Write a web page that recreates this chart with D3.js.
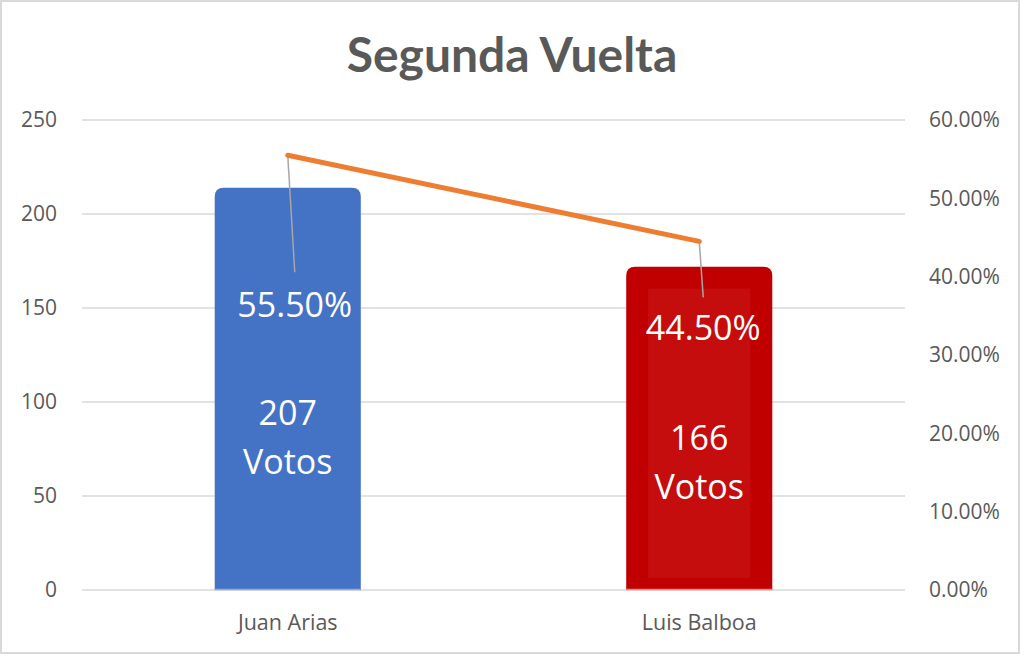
<!DOCTYPE html>
<html>
<head>
<meta charset="utf-8">
<script src="https://cdn.jsdelivr.net/npm/d3@7"></script>
<style>
  html, body { margin: 0; padding: 0; background: #fff; }
  svg { display: block; font-family: "Open Sans", Lato, sans-serif; }
</style>
</head>
<body>
<svg id="chart"></svg>
<script>
// chart data
const candidates = ["Juan Arias", "Luis Balboa"];
const barValues = [214, 172];          // bar heights as drawn (left axis)
const voteLabels = ["207", "166"];
const percentages = [0.555, 0.445];     // line series (right axis)
const leftTicks = [0, 50, 100, 150, 200, 250];
const rightTicks = [0, 0.1, 0.2, 0.3, 0.4, 0.5, 0.6];
const barColors = ["#4472C4", "#C00000"];

const W = 1024, H = 657;
const margin = {top: 120, right: 119, bottom: 67, left: 82};

const svg = d3.select("#chart").attr("width", W).attr("height", H);

// border
svg.append("rect")
    .attr("x", 1).attr("y", 1)
    .attr("width", W - 6).attr("height", H - 5)
    .attr("fill", "#fff")
    .attr("stroke", "#d9d9d9")
    .attr("stroke-width", 2);

const x = d3.scaleBand()
    .domain(candidates)
    .range([margin.left, W - margin.right])
    .paddingInner(0.645)
    .paddingOuter(0.3225);

const yLeft = d3.scaleLinear().domain([0, 250]).range([H - margin.bottom, margin.top]);
const yRight = d3.scaleLinear().domain([0, 0.6]).range([H - margin.bottom, margin.top]);

// title
svg.append("text")
    .attr("x", 512).attr("y", 72)
    .attr("text-anchor", "middle")
    .attr("font-family", "Lato, sans-serif")
    .attr("font-size", 48)
    .attr("font-weight", "bold")
    .attr("fill", "#595959")
    .text("Segunda Vuelta");

// gridlines
svg.append("g")
    .selectAll("line")
    .data(leftTicks)
    .enter()
    .append("line")
    .attr("x1", margin.left).attr("x2", W - margin.right)
    .attr("y1", d => yLeft(d)).attr("y2", d => yLeft(d))
    .attr("stroke", "#d9d9d9")
    .attr("stroke-width", 1.3);

// left axis
const leftAxis = svg.append("g")
    .attr("transform", `translate(${margin.left - 25},0)`)
    .call(d3.axisLeft(yLeft).tickValues(leftTicks).tickSize(0).tickPadding(0));
leftAxis.select(".domain").remove();
leftAxis.selectAll("text")
    .attr("font-family", "'Open Sans', sans-serif")
    .attr("font-size", 21)
    .attr("fill", "#595959");

// right axis
const rightAxis = svg.append("g")
    .attr("transform", `translate(${W - margin.right + 24},0)`)
    .call(d3.axisRight(yRight).tickValues(rightTicks).tickFormat(d3.format(".2%")).tickSize(0).tickPadding(0));
rightAxis.select(".domain").remove();
rightAxis.selectAll("text")
    .attr("font-family", "'Open Sans', sans-serif")
    .attr("font-size", 21)
    .attr("fill", "#595959");

// category axis labels
svg.append("g")
    .selectAll("text")
    .data(candidates)
    .enter()
    .append("text")
    .attr("x", d => x(d) + x.bandwidth() / 2)
    .attr("y", H - margin.bottom + 40)
    .attr("text-anchor", "middle")
    .attr("font-size", 21.5)
    .attr("fill", "#595959")
    .text(d => d);

// bars with rounded top corners
const r = 9;
function barPath(x0, y0, w, y1) {
    return `M${x0},${y1}V${y0 + r}Q${x0},${y0} ${x0 + r},${y0}H${x0 + w - r}Q${x0 + w},${y0} ${x0 + w},${y0 + r}V${y1}Z`;
}
const bars = svg.append("g");
bars.selectAll("path")
    .data(barValues)
    .enter()
    .append("path")
    .attr("d", (d, i) => barPath(x(candidates[i]), yLeft(d), x.bandwidth(), yLeft(0)))
    .attr("fill", (d, i) => barColors[i]);

// subtle inner panel on the second bar
const inset = 22;
bars.append("rect")
    .attr("x", x(candidates[1]) + inset)
    .attr("y", yLeft(barValues[1]) + inset)
    .attr("width", x.bandwidth() - 2 * inset)
    .attr("height", yLeft(0) - yLeft(barValues[1]) - inset - 12)
    .attr("fill", "#C60D0D");

// light base line along the bar bottoms
bars.selectAll("line")
    .data(barValues)
    .enter()
    .append("line")
    .attr("x1", (d, i) => x(candidates[i]))
    .attr("x2", (d, i) => x(candidates[i]) + x.bandwidth())
    .attr("y1", yLeft(0) - 0.5).attr("y2", yLeft(0) - 0.5)
    .attr("stroke", (d, i) => i === 0 ? "#8FAADC" : "#F08080")
    .attr("stroke-width", 1.5);

// vote labels inside bars
const voteOffsets = [237, 183];   // baseline of first line below bar top
svg.append("g")
    .selectAll("text")
    .data(voteLabels)
    .enter()
    .append("text")
    .attr("text-anchor", "middle")
    .attr("font-size", 34)
    .attr("fill", "#fff")
    .each(function (d, i) {
        const cx = x(candidates[i]) + x.bandwidth() / 2;
        const t = d3.select(this).attr("x", cx).attr("y", yLeft(barValues[i]) + voteOffsets[i]);
        t.append("tspan").attr("x", cx).text(d);
        t.append("tspan").attr("x", cx).attr("dy", 49).text("Votos");
    });

// percentage line
const linePts = percentages.map((p, i) => [x(candidates[i]) + x.bandwidth() / 2, yRight(p)]);
const leaderDx = [7, 4], leaderDy = [117, 56], labelDy = [162, 99];

// leader lines
svg.append("g")
    .selectAll("line")
    .data(percentages)
    .enter()
    .append("line")
    .attr("x1", (d, i) => linePts[i][0])
    .attr("y1", (d, i) => linePts[i][1])
    .attr("x2", (d, i) => linePts[i][0] + leaderDx[i])
    .attr("y2", (d, i) => linePts[i][1] + leaderDy[i])
    .attr("stroke", "#a6a6a6")
    .attr("stroke-width", 1.5);

svg.append("path")
    .datum(linePts)
    .attr("d", d3.line())
    .attr("fill", "none")
    .attr("stroke", "#ED7D31")
    .attr("stroke-width", 5)
    .attr("stroke-linecap", "round");

// percentage labels
svg.append("g")
    .selectAll("text")
    .data(percentages)
    .enter()
    .append("text")
    .attr("x", (d, i) => linePts[i][0] + leaderDx[i])
    .attr("y", (d, i) => linePts[i][1] + labelDy[i])
    .attr("text-anchor", "middle")
    .attr("font-size", 34)
    .attr("fill", "#fff")
    .text(d => d3.format(".2%")(d));
</script>
</body>
</html>
